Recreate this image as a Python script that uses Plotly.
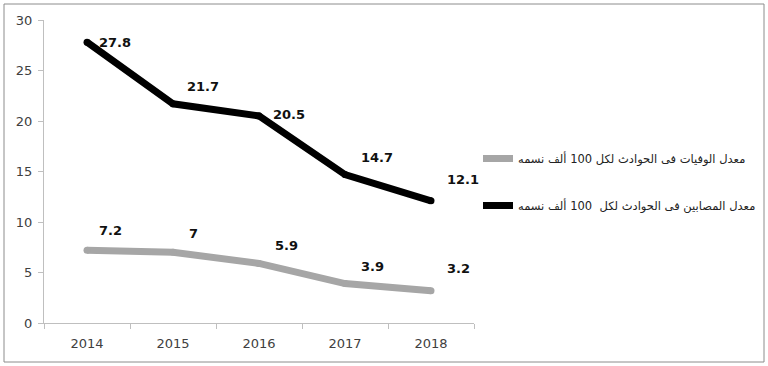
import plotly.graph_objects as go

years = ["2014", "2015", "2016", "2017", "2018"]
deaths = [7.2, 7, 5.9, 3.9, 3.2]
injured = [27.8, 21.7, 20.5, 14.7, 12.1]
name_deaths = "معدل الوفيات فى الحوادث لكل 100 ألف نسمه"
name_injured = "معدل المصابين فى الحوادث لكل  100 ألف نسمه"

W, H = 768, 366
L, R, T, B = 44, 294, 20, 43
pw, ph = W - L - R, H - T - B

fig = go.Figure()
for vals, name, col, grp in [(deaths, name_deaths, "#a6a6a6", "a"),
                             (injured, name_injured, "#000000", "b")]:
    fig.add_trace(go.Scatter(x=years, y=vals, mode="lines", name=name,
                             line=dict(color=col, width=7), legendgroup=grp))
    # round caps at the ends
    fig.add_trace(go.Scatter(x=years, y=vals, mode="markers", showlegend=False,
                             legendgroup=grp, hoverinfo="skip",
                             marker=dict(color=col, size=7, line=dict(width=0))))

# data labels
def add_labels(vals, offsets):
    for i, (v, (dx, dy)) in enumerate(zip(vals, offsets)):
        fig.add_annotation(x=i, y=v, text=f"<b>{v:g}</b>", showarrow=False,
                           xref="x", yref="y",
                           xanchor="left", yanchor="middle", xshift=dx, yshift=dy,
                           font=dict(family="DejaVu Sans", size=13, color="#111111"))

add_labels(injured, [(10, 0), (12, 17), (12, 1), (14, 17), (14, 21)])
add_labels(deaths, [(10, 20), (14, 19), (14, 18), (14, 17), (14, 22)])

# outer frame
fig.add_shape(type="rect", xref="paper", yref="paper",
              x0=(4 - L) / pw, x1=(764 - L) / pw,
              y0=((H - B) - 362) / ph, y1=((H - B) - 4) / ph,
              line=dict(color="#8c8c8c", width=1), layer="below")

fig.update_layout(
    width=W, height=H,
    margin=dict(l=L, r=R, t=T, b=B, autoexpand=False),
    paper_bgcolor="white", plot_bgcolor="white",
    font=dict(family="DejaVu Sans", color="#444444"),
    legend=dict(x=(478 - L) / pw, y=((H - B) - 144) / ph, xanchor="left", yanchor="top",
                tracegroupgap=28, font=dict(family="DejaVu Sans", size=11.5, color="#222222"),
                bgcolor="rgba(0,0,0,0)", itemwidth=30),
    xaxis=dict(type="category", range=[-0.5, 4.5], showline=True, linecolor="#bfbfbf",
               ticks="outside", tickson="boundaries", ticklen=5, tickcolor="#bfbfbf",
               ticklabelstandoff=8,
               showgrid=False, tickfont=dict(size=13, color="#404040"), fixedrange=True),
    yaxis=dict(range=[0, 30], dtick=5, showline=True, linecolor="#bfbfbf",
               ticks="outside", ticklen=5, tickcolor="#bfbfbf", showgrid=False,
               ticklabelstandoff=3,
               zeroline=False, tickfont=dict(size=13, color="#404040"), fixedrange=True),
)

fig.write_html("out.html", config={"displayModeBar": False},
               post_script="document.body.style.margin='0';document.body.style.overflow='hidden';")
